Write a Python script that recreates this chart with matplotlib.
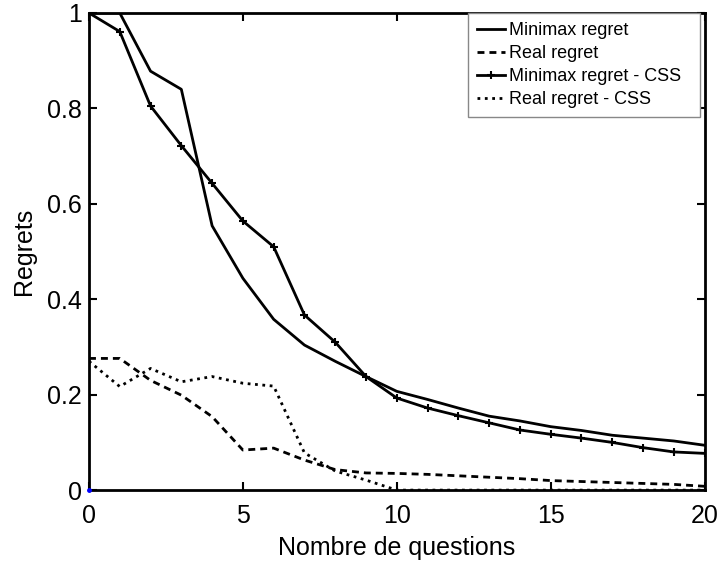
import numpy as np
import matplotlib.pyplot as plt

plt.rcParams['font.family'] = ['Liberation Sans', 'DejaVu Sans']

# nombre de questions posées
questions = np.arange(0, 21)

# regrets observés
minimax = [1.0, 1.0, 0.878, 0.84, 0.554, 0.444, 0.358, 0.304, 0.27, 0.238, 0.207,
           0.19, 0.172, 0.155, 0.145, 0.133, 0.125, 0.115, 0.109, 0.103, 0.094]
reel = [0.276, 0.276, 0.23, 0.199, 0.154, 0.084, 0.088, 0.063, 0.043, 0.036, 0.035,
        0.033, 0.03, 0.027, 0.024, 0.02, 0.018, 0.016, 0.014, 0.012, 0.008]
minimax_css = [1.0, 0.961, 0.805, 0.722, 0.643, 0.564, 0.51, 0.367, 0.31, 0.238, 0.193,
               0.172, 0.156, 0.141, 0.126, 0.117, 0.109, 0.10, 0.089, 0.080, 0.077]
reel_css = [0.27, 0.217, 0.255, 0.227, 0.238, 0.224, 0.218, 0.078, 0.04, 0.021, 0.0,
            0.0, 0.0, 0.0, 0.0, 0.0, 0.0, 0.0, 0.0, 0.0, 0.0]

fig = plt.figure(figsize=(7.2, 5.64), dpi=100)
ax = fig.add_axes([0.1236, 0.131, 0.855, 0.846])

ax.plot(questions, minimax, 'k-', lw=2, label='Minimax regret')
ax.plot(questions, reel, color='k', ls=(0, (2.5, 1.8)), lw=2, label='Real regret')
ax.plot(questions, minimax_css, 'k-', lw=2, marker='+', ms=6, mew=1.5,
        label='Minimax regret - CSS')
ax.plot(questions, reel_css, 'k:', lw=2, label='Real regret - CSS')
ax.plot([0], [0], 'b.', ms=5, clip_on=False, zorder=5)

ax.set_xlim(0, 20)
ax.set_ylim(0, 1)
ax.set_xticks([0, 5, 10, 15, 20])
ax.set_yticks([0, 0.2, 0.4, 0.6, 0.8, 1])
ax.set_yticklabels(['0', '0.2', '0.4', '0.6', '0.8', '1'])
ax.tick_params(direction='in', top=True, right=True, labelsize=18, width=1.5, length=6)
ax.tick_params(axis='x', pad=10)
ax.tick_params(axis='y', pad=5)
for s in ax.spines.values():
    s.set_linewidth(2)

ax.set_xlabel('Nombre de questions', fontsize=18, labelpad=6)
ax.set_ylabel('Regrets', fontsize=18, labelpad=8)

# légende à largeur fixe, texte aligné à gauche
leg = ax.legend(loc='upper left', bbox_to_anchor=(0.615, 0.0, 0.377, 1.0),
                mode='expand', fontsize=13, handlelength=1.55, handletextpad=0.25,
                borderpad=0.5, labelspacing=0.34, fancybox=False, framealpha=1,
                borderaxespad=0)
leg.get_frame().set_edgecolor('#888888')
leg.get_frame().set_linewidth(1)

fig.savefig('out.png', dpi=100)
